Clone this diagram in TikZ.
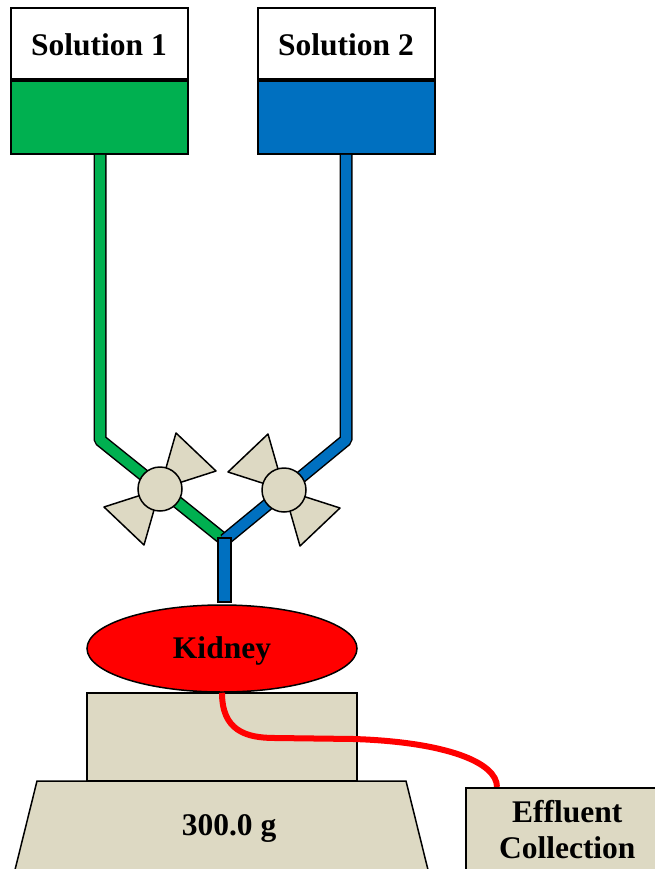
\documentclass[tikz,border=0pt]{standalone}
\usepackage{fontspec}
\setmainfont{Liberation Serif}
\usetikzlibrary{positioning,shapes.geometric}

\definecolor{solgreen}{HTML}{00B050}
\definecolor{solblue}{HTML}{0070C0}
\definecolor{khaki}{HTML}{DDD9C3}

\tikzset{
    lbl/.style={font=\fontsize{31.5}{36}\selectfont\bfseries},
    tanklabel/.style={draw, line width=2pt, fill=white, minimum width=177pt, minimum height=71pt, inner sep=0pt, text height=25pt, text depth=0pt, lbl},
    tank/.style={draw, line width=2pt, minimum width=177pt, minimum height=73pt, inner sep=0pt},
    pipe/.style={line width=1.5pt, double=#1, double distance=10pt, line join=bevel},
    blade/.style={fill=khaki, draw, line width=1.5pt, line join=round},
    valve/.style={circle, fill=khaki, draw, line width=1.5pt, minimum size=44pt, inner sep=0pt},
    block/.style={fill=khaki, draw, line width=1.5pt, inner sep=0pt},
}

\begin{document}
\begin{tikzpicture}[x=1pt, y=-1pt]
        \useasboundingbox (0,0) rectangle (654,869);

        % the two reservoirs
        \node [tanklabel] (sol1) at (99,43.5) {Solution 1};
        \node [tank, fill=solgreen, below=0pt of sol1] (tank1) {};
        \node [tanklabel] (sol2) at (346,43.5) {Solution 2};
        \node [tank, fill=solblue, below=0pt of sol2] (tank2) {};

        % feed lines down to the y-piece
        \coordinate (bend1) at (100,440);
        \coordinate (bend2) at (346,440);
        \coordinate (joint) at (224.5,540);
        \coordinate (v1) at (160,489);
        \coordinate (v2) at (284,490);
        \draw [pipe=solgreen] (tank1.south) ++(1,0) -- (bend1) -- (joint);
        \draw [pipe=solblue] (tank2.south) -- (bend2) -- (joint);

        % valves with their handles
        \foreach \s in {1,-1} {
            \draw [blade] (v1) -- +(16*\s,-56*\s) -- +(56*\s,-18*\s) -- cycle;
            \draw [blade] (v2) -- +(-16*\s,-56*\s) -- +(-56*\s,-18*\s) -- cycle;
        }
        \node [valve] (valve1) at (v1) {};
        \node [valve] (valve2) at (v2) {};

        \node [draw, line width=2.5pt, fill=solblue, minimum width=13pt, minimum height=64pt, inner sep=0pt] (stem) at (224.5,570) {};

        % balance
        \draw [block] (37,781) -- (406,781) -- (433,890) -- (10,890) -- cycle;
        \node [block, minimum width=270pt, minimum height=88pt] (pan) at (222,737) {};
        \node [lbl, anchor=base] (weight) at (229,835) {300.0 g};

        \node [ellipse, draw, line width=1.5pt, fill=red, minimum width=270pt, minimum height=87pt, text height=24pt, text depth=4pt, lbl] (kidney) at (222,648.5) {Kidney};

        % outflow
        \coordinate (drain) at (497,787);
        \draw [red, line width=6pt] (kidney.south) .. controls (222,730) and (245,738) .. (275,738) -- (354,739) .. controls (445,742) and (497,762) .. (drain);
        \node [block, lbl, anchor=north west, minimum width=203pt, minimum height=84pt, align=center] (effluent) at (465,787) {Effluent\\Collection};
\end{tikzpicture}
\end{document}
